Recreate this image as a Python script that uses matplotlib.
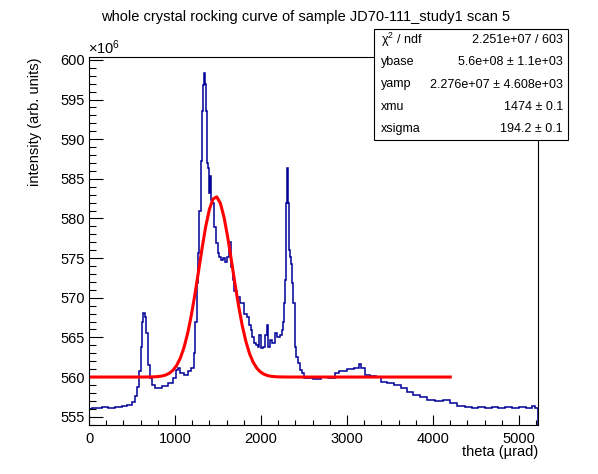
import numpy as np
import matplotlib.pyplot as plt
from matplotlib.ticker import MultipleLocator, FuncFormatter
from matplotlib.patches import Rectangle

plt.rcParams['font.family'] = ['Liberation Sans', 'DejaVu Sans']
plt.rcParams['mathtext.fontset'] = 'custom'
plt.rcParams['mathtext.rm'] = 'Liberation Sans'
plt.rcParams['mathtext.it'] = 'Liberation Sans:italic'

# rocking curve histogram: left bin edges (urad) and contents (units of 1e6)
bin_lo = [0, 40, 90, 150, 220, 300, 380, 440, 500, 540, 560, 580, 600, 615, 630,
          650, 665, 685, 705, 730, 770, 850, 920, 980, 1010, 1040, 1060, 1100,
          1150, 1190, 1215, 1235, 1250, 1265, 1280, 1300, 1315, 1325, 1335, 1345,
          1360, 1372, 1385, 1400, 1412, 1422, 1435, 1455, 1475, 1495, 1515, 1535,
          1555, 1580, 1605, 1630, 1650, 1670, 1690, 1720, 1760, 1800, 1835, 1862,
          1882, 1900, 1920, 1940, 1960, 1980, 1998, 2018, 2045, 2065, 2083, 2103,
          2128, 2160, 2188, 2215, 2240, 2254, 2265, 2277, 2287, 2297, 2308, 2318,
          2328, 2340, 2352, 2364, 2377, 2392, 2410, 2432, 2452, 2473, 2498, 2600,
          2700, 2780, 2860, 2910, 3000, 3080, 3135, 3165, 3205, 3265, 3340, 3400,
          3460, 3550, 3625, 3700, 3770, 3850, 3925, 4020, 4120, 4200, 4280, 4370,
          4450, 4520, 4600, 4680, 4760, 4840, 4920, 5000, 5080, 5150, 5190]
x_end = 5220
counts_e6 = [556.0, 556.1, 556.05, 556.2, 556.15, 556.25, 556.3, 556.5, 556.9, 557.6,
             558.7, 560.8, 563.8, 567.0, 568.1, 567.6, 565.5, 561.5, 559.9, 559.0,
             558.6, 558.9, 559.3, 559.9, 560.9, 561.1, 560.5, 560.3, 560.7, 561.1,
             563.0, 567.0, 571.8, 575.6, 581.0, 587.3, 593.6, 596.8, 598.3, 597.0,
             593.6, 587.0, 586.4, 583.2, 585.4, 582.3, 581.9, 578.9, 576.9, 575.6,
             575.1, 574.7, 575.0, 574.5, 575.1, 577.0, 573.9, 572.2, 570.9, 570.1,
             569.3, 568.0, 567.6, 566.5, 565.9, 565.0, 564.3, 564.0, 563.8, 565.3,
             563.6, 563.8, 565.3, 566.5, 563.8, 564.7, 564.3, 565.5, 565.0, 565.3,
             565.9, 566.9, 569.3, 572.2, 581.9, 586.4, 585.0, 581.9, 576.0, 575.1,
             574.3, 571.8, 569.3, 563.8, 562.5, 561.8, 560.9, 560.5, 559.9, 559.8,
             559.95, 559.85, 560.5, 560.8, 561.0, 561.1, 561.6, 561.1, 560.2, 560.1,
             560.0, 559.4, 559.3, 559.0, 558.6, 558.1, 557.7, 557.5, 557.1, 557.0,
             557.1, 556.7, 556.3, 556.2, 556.15, 556.25, 556.1, 556.2, 556.15, 556.25,
             556.1, 556.2, 556.15, 556.3, 556.1]

# fit result: gaussian on a flat base
ybase = 5.6e8
yamp = 2.276e7
xmu = 1474
xsigma = 194.2
fit_range = (0, 4200)

stat_names = [u'\u03c7$^{2}$ / ndf', 'ybase', 'yamp', 'xmu', 'xsigma']
stat_values = ['2.251e+07 / 603', u'5.6e+08 \u00b1 1.1e+03',
               u'2.276e+07 \u00b1 4.608e+03', u'1474 \u00b1 0.1', u'194.2 \u00b1 0.1']

W, H = 598, 474
fig = plt.figure(figsize=(W / 100, H / 100), dpi=100)
ax = fig.add_axes([89 / W, 1 - 425 / H, (538 - 89) / W, (425 - 56.7) / H])

edges = bin_lo + [x_end]
counts = np.array(counts_e6) * 1e6
ax.stairs(counts, edges, color='#000099', lw=1.1)

xf = np.linspace(fit_range[0], fit_range[1], 100)
yf = ybase + yamp * np.exp(-0.5 * ((xf - xmu) / xsigma) ** 2)
ax.plot(xf, yf, color='red', lw=2.2)

ax.set_xlim(0, x_end)
ax.set_ylim(553.95e6, 600.4e6)
ax.xaxis.set_major_locator(MultipleLocator(1000))
ax.xaxis.set_minor_locator(MultipleLocator(200))
ax.yaxis.set_major_locator(MultipleLocator(5e6))
ax.yaxis.set_minor_locator(MultipleLocator(1e6))
ax.yaxis.set_major_formatter(FuncFormatter(lambda v, p: '%d' % round(v / 1e6)))
ax.tick_params(axis='x', which='major', direction='in', length=7.2, width=0.8, labelsize=10.5, pad=5)
ax.tick_params(axis='x', which='minor', direction='in', length=3.6, width=0.8)
ax.tick_params(axis='y', which='major', direction='in', length=10, width=0.8, labelsize=10.5, pad=3)
ax.tick_params(axis='y', which='minor', direction='in', length=5, width=0.8)
for s in ax.spines.values():
    s.set_linewidth(0.8)

fig.text(306 / W, 1 - 17 / H, 'whole crystal rocking curve of sample JD70-111_study1 scan 5',
         ha='center', va='center', fontsize=10.5)
fig.text(538 / W, 1 - 452 / H, u'theta (\u00b5rad)', ha='right', va='center', fontsize=10.5)
fig.text(35 / W, 1 - 57 / H, 'intensity (arb. units)', rotation=90,
         ha='center', va='top', fontsize=10.5)
fig.text(88 / W, 1 - 54 / H, r'$\times$10$^{6}$', ha='left', va='baseline', fontsize=10.5)

# stats box
bx0, by0, bx1, by1 = 374, 29, 568, 140
fig.add_artist(Rectangle((bx0 / W, 1 - by1 / H), (bx1 - bx0) / W, (by1 - by0) / H,
                         transform=fig.transFigure, facecolor='white',
                         edgecolor='black', lw=0.8, zorder=10))
row_h = (by1 - by0) / len(stat_names)
for i, (n, v) in enumerate(zip(stat_names, stat_values)):
    yc = 1 - (by0 + row_h * (i + 0.5)) / H
    fig.text(381 / W, yc, n, ha='left', va='center', fontsize=9, zorder=11)
    fig.text(563 / W, yc, v, ha='right', va='center', fontsize=9, zorder=11)

fig.savefig('out.png', dpi=100)
